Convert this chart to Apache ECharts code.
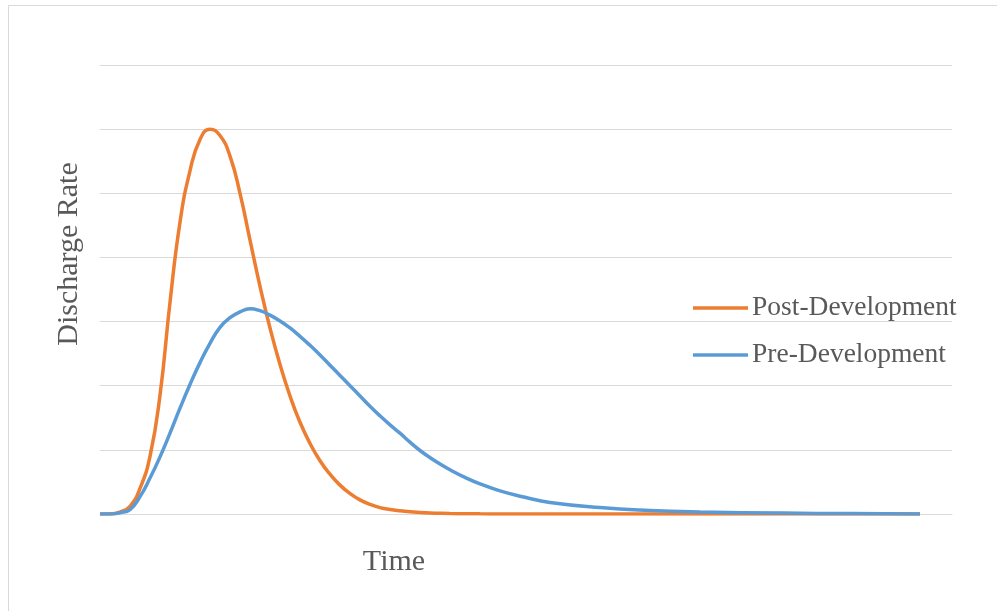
<!DOCTYPE html>
<html>
<head>
<meta charset="utf-8">
<style>
  html, body { margin: 0; padding: 0; background: #fff; }
  #chart { width: 997px; height: 611px; }
</style>
<script src="https://cdn.jsdelivr.net/npm/echarts@6/dist/echarts.min.js"></script>
</head>
<body>
<div id="chart"></div>
<script>
// Hydrograph: discharge over time before and after development
const time = [0, 1, 2, 3, 4, 5, 6, 7, 8, 9, 10, 11, 12, 13, 14, 15, 16, 17, 18, 19, 20,
  21, 22, 23, 24, 25, 26, 27, 28, 29, 30, 31, 32, 33, 34, 35,
  36.5, 38, 40, 42.5, 45, 50, 55, 60, 68.3, 75, 82];
const postDevelopment = [0, 0, 0.03, 0.12, 0.4, 0.9, 1.85, 3.3, 4.55, 5.35, 5.84, 6.0, 5.9, 5.58, 5.0, 4.27, 3.55, 2.9, 2.33, 1.84, 1.43,
  1.1, 0.83, 0.62, 0.45, 0.32, 0.22, 0.15, 0.1, 0.07, 0.05, 0.035, 0.025, 0.017, 0.011, 0.007,
  0.004, 0.002, 0.001, 0, 0, 0, 0, 0, 0, 0, 0];
const preDevelopment = [0, 0, 0.02, 0.07, 0.27, 0.56, 0.89, 1.26, 1.65, 2.02, 2.36, 2.66, 2.91, 3.06, 3.15, 3.2, 3.17, 3.1, 3.01, 2.9, 2.77,
  2.63, 2.48, 2.32, 2.16, 2.0, 1.84, 1.68, 1.53, 1.39, 1.26, 1.12, 0.99, 0.88, 0.78, 0.69,
  0.57, 0.47, 0.36, 0.26, 0.18, 0.1, 0.055, 0.032, 0.014, 0.006, 0];
const yTicks = [0, 1, 2, 3, 4, 5, 6, 7];

const font = 'Liberation Serif';
const textColor = '#595959';
const gridColor = '#d9d9d9';

const pair = (vals) => time.map((t, i) => [t, vals[i]]);

const chart = echarts.init(document.getElementById('chart'));
chart.setOption({
  animation: false,
  backgroundColor: '#fff',
  grid: { left: 100, right: 45, top: 65, bottom: 97, containLabel: false },
  xAxis: {
    type: 'value',
    min: 0,
    max: 85.2,
    axisLine: { show: true, lineStyle: { color: gridColor, width: 1 } },
    axisTick: { show: false },
    axisLabel: { show: false },
    splitLine: { show: false }
  },
  yAxis: {
    type: 'value',
    min: yTicks[0],
    max: yTicks[yTicks.length - 1],
    interval: 1,
    axisLine: { show: false },
    axisTick: { show: false },
    axisLabel: { show: false },
    splitLine: { show: true, lineStyle: { color: gridColor, width: 1 } }
  },
  legend: {
    orient: 'vertical',
    left: 688,
    top: 289,
    icon: 'rect',
    itemWidth: 55,
    itemHeight: 3.5,
    itemGap: 19,
    textStyle: { fontFamily: font, fontSize: 27.5, color: textColor, padding: [0, 0, 0, -1] },
    data: ['Post-Development', 'Pre-Development']
  },
  graphic: [
    {
      type: 'rect',
      shape: { x: 8.5, y: 5.5, width: 1000, height: 700 },
      style: { fill: 'none', stroke: gridColor, lineWidth: 1 },
      silent: true
    },
    {
      type: 'text',
      x: 394, y: 562,
      style: { text: 'Time', fontFamily: font, fontSize: 30, fill: textColor, align: 'center', verticalAlign: 'middle' }
    },
    {
      type: 'text',
      x: 69, y: 254,
      rotation: Math.PI / 2,
      style: { text: 'Discharge Rate', fontFamily: font, fontSize: 30, fill: textColor, align: 'center', verticalAlign: 'middle' }
    }
  ],
  series: [
    {
      name: 'Post-Development',
      type: 'line',
      data: pair(postDevelopment),
      smooth: true,
      symbol: 'none',
      lineStyle: { color: '#ED7D31', width: 3.5 },
      itemStyle: { color: '#ED7D31' }
    },
    {
      name: 'Pre-Development',
      type: 'line',
      data: pair(preDevelopment),
      smooth: true,
      symbol: 'none',
      lineStyle: { color: '#5B9BD5', width: 3.5 },
      itemStyle: { color: '#5B9BD5' }
    }
  ]
});
</script>
</body>
</html>
